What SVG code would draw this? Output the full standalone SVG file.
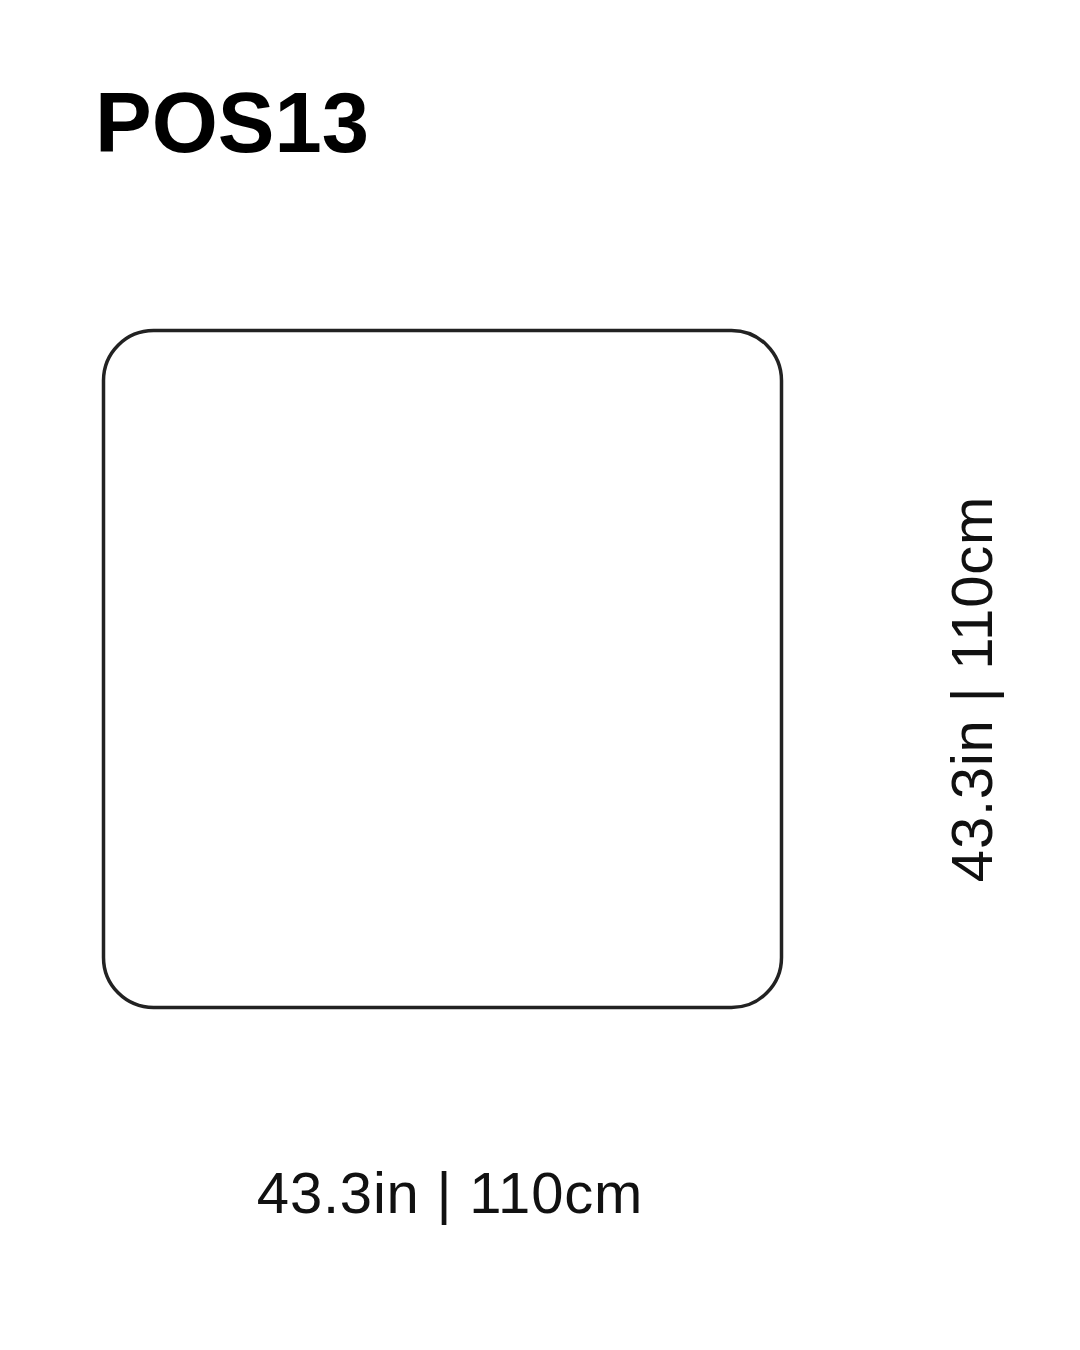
<svg xmlns="http://www.w3.org/2000/svg" width="1080" height="1350" viewBox="0 0 1080 1350">
  <style>
    .title { font-family: "Liberation Sans", Arial, sans-serif; font-weight: bold; font-size: 85px; fill: #000; }
    .dim { font-family: "Liberation Sans", Arial, sans-serif; font-size: 58px; fill: #111; letter-spacing: 0.8px; }
    .outline { fill: #fff; stroke: #222; stroke-width: 3.5; }
  </style>
  <rect width="1080" height="1350" fill="#fff"/>
  <g id="title">
    <text class="title" x="95" y="152">POS13</text>
  </g>
  <g id="table-top">
    <rect class="outline" x="103.5" y="330.5" width="678" height="677" rx="50" ry="50"/>
  </g>
  <g id="width-label">
    <text class="dim" x="450" y="1213" text-anchor="middle">43.3in | 110cm</text>
  </g>
  <g id="depth-label">
    <text class="dim" x="0" y="0" text-anchor="middle" transform="translate(992,689) rotate(-90)">43.3in | 110cm</text>
  </g>
  <g id="connectors"></g>
</svg>
